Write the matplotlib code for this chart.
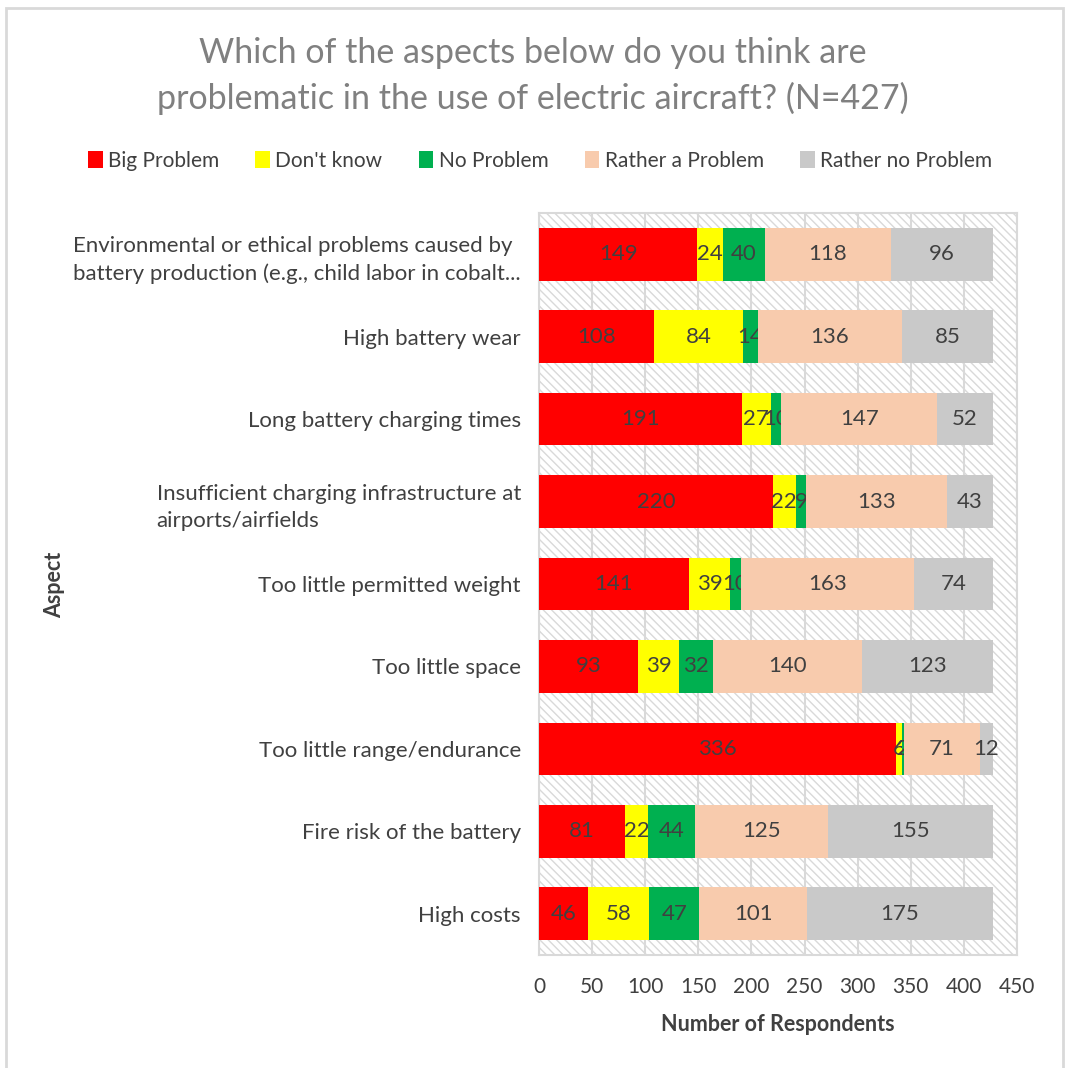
import matplotlib.pyplot as plt
import matplotlib.patches as mpatches
import numpy as np

plt.rcParams['font.family'] = ['Lato', 'DejaVu Sans']
plt.rcParams['hatch.color'] = '#D9D9D9'
plt.rcParams['hatch.linewidth'] = 1.0

aspects = [
    'Environmental or ethical problems caused by\nbattery production (e.g., child labor in cobalt...',
    'High battery wear',
    'Long battery charging times',
    'Insufficient charging infrastructure at\nairports/airfields',
    'Too little permitted weight',
    'Too little space',
    'Too little range/endurance',
    'Fire risk of the battery',
    'High costs',
]
series_names = ['Big Problem', "Don't know", 'No Problem', 'Rather a Problem', 'Rather no Problem']
big_problem = [149, 108, 191, 220, 141, 93, 336, 81, 46]
dont_know = [24, 84, 27, 22, 39, 39, 6, 22, 58]
no_problem = [40, 14, 10, 9, 10, 32, 2, 44, 47]
rather_problem = [118, 136, 147, 133, 163, 140, 71, 125, 101]
rather_no_problem = [96, 85, 52, 43, 74, 123, 12, 155, 175]
colors = ['#FF0000', '#FFFF00', '#00B050', '#F8CBAD', '#C9C9C9']

text_col = '#404040'
fig = plt.figure(figsize=(10.65, 10.68), dpi=100)
ax = fig.add_axes([539 / 1065, 1 - 955 / 1068, (1017 - 539) / 1065, (955 - 213) / 1068])

# outer chart border
fig.patches.append(mpatches.Rectangle((6 / 1065, -0.01), (1063 - 6) / 1065, 1.01 - 8 / 1068,
                                      transform=fig.transFigure, fill=False,
                                      edgecolor='#D9D9D9', linewidth=2))

# hatched plot background
ax.add_patch(mpatches.Rectangle((0, 0), 1, 1, transform=ax.transAxes, facecolor='white',
                                hatch='\\\\\\\\', edgecolor='#D9D9D9', linewidth=0, zorder=0))

y = np.arange(len(aspects))
left = np.zeros(len(aspects))
all_series = [big_problem, dont_know, no_problem, rather_problem, rather_no_problem]
for name, vals, col in zip(series_names, all_series, colors):
    vals = np.array(vals)
    bars = ax.barh(y, vals, left=left, height=0.64, color=col, label=name, zorder=3)
    ax.bar_label(bars, labels=[str(v) for v in vals], label_type='center',
                 fontsize=16, color=text_col)
    left += vals

ax.set_ylim(len(aspects) - 0.5, -0.5)
ax.set_xlim(0, 450)
ax.set_xticks(np.arange(0, 451, 50))
ax.set_yticks(y)
ax.set_yticklabels(aspects, fontsize=16, color=text_col, multialignment='left', linespacing=1.45)
ax.tick_params(axis='x', labelsize=15, labelcolor=text_col, length=0, pad=16)
ax.tick_params(axis='y', length=0, pad=13)
ax.grid(axis='x', color='#D9D9D9', linewidth=1.5, zorder=1)
ax.set_axisbelow(True)
for s in ax.spines.values():
    s.set_color('#D9D9D9')
    s.set_linewidth(1.5)

ax.set_xlabel('Number of Respondents', fontsize=15.5, fontweight='bold', color=text_col, labelpad=12)
fig.text(55 / 1065, 1 - 585 / 1068, 'Aspect', rotation=90, fontsize=15.5, fontweight='bold',
         color=text_col, ha='center', va='center')

fig.text(0.5, 1 - 76 / 1068, 'Which of the aspects below do you think are\nproblematic in the use of electric aircraft? (N=427)',
         ha='center', va='center', fontsize=24.5, color='#808080', linespacing=1.45)

fig.legend(loc='center', bbox_to_anchor=(540 / 1065, 1 - 161 / 1068), ncol=5, frameon=False,
           fontsize=15, labelcolor=text_col, handlelength=0.7, handleheight=0.9,
           handletextpad=0.25, columnspacing=1.75)

fig.savefig('out.png', dpi=100)
